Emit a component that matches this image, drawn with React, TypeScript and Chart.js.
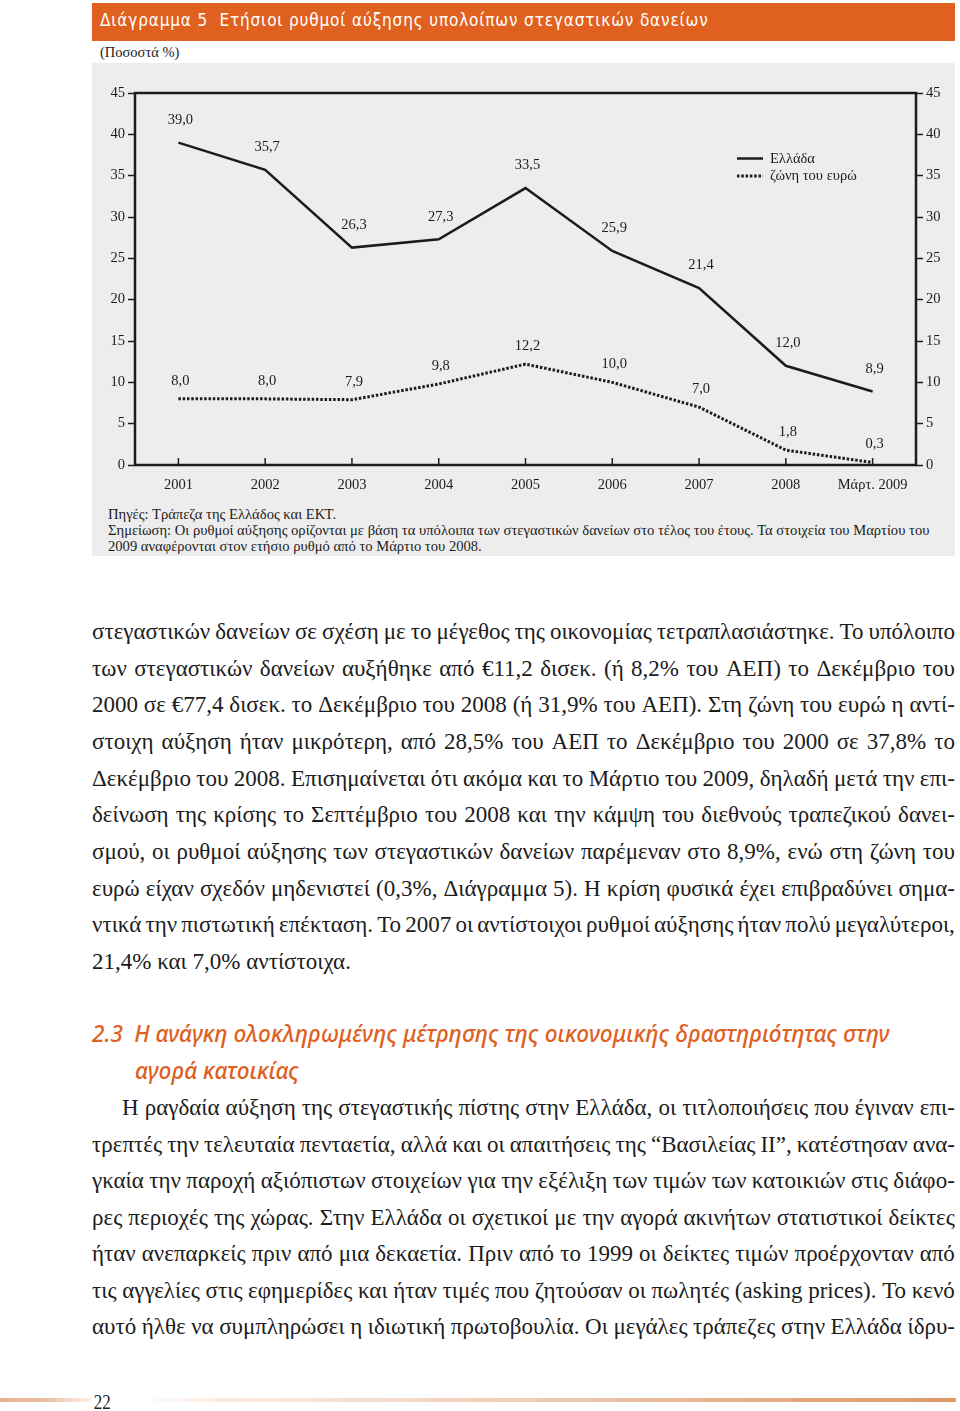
import React, { useEffect, useRef } from "react";
import { Chart, registerables } from "chart.js";

Chart.register(...registerables);

// ---------- data ----------
const categories = ["2001", "2002", "2003", "2004", "2005", "2006", "2007", "2008", "Μάρτ. 2009"];
const greece = [39.0, 35.7, 26.3, 27.3, 33.5, 25.9, 21.4, 12.0, 8.9];
const euroArea = [8.0, 8.0, 7.9, 9.8, 12.2, 10.0, 7.0, 1.8, 0.3];
const seriesLabels = ["Ελλάδα", "ζώνη του ευρώ"];
const yMin = 0;
const yMax = 45;
const yStep = 5;

// ---------- text ----------
const titleText = "Διάγραμμα 5  Ετήσιοι ρυθμοί αύξησης υπολοίπων στεγαστικών δανείων";
const unitText = "(Ποσοστά %)";
const noteLines = [
  "Πηγές: Τράπεζα της Ελλάδος και ΕΚΤ.",
  "Σημείωση: Οι ρυθμοί αύξησης ορίζονται με βάση τα υπόλοιπα των στεγαστικών δανείων στο τέλος του έτους. Τα στοιχεία του Μαρτίου του",
  "2009 αναφέρονται στον ετήσιο ρυθμό από το Μάρτιο του 2008.",
];
const para1 = [
  "στεγαστικών δανείων σε σχέση με το μέγεθος της οικονομίας τετραπλασιάστηκε. Το υπόλοιπο",
  "των στεγαστικών δανείων αυξήθηκε από €11,2 δισεκ. (ή 8,2% του ΑΕΠ) το Δεκέμβριο του",
  "2000 σε €77,4 δισεκ. το Δεκέμβριο του 2008 (ή 31,9% του ΑΕΠ). Στη ζώνη του ευρώ η αντί-",
  "στοιχη αύξηση ήταν μικρότερη, από 28,5% του ΑΕΠ το Δεκέμβριο του 2000 σε 37,8% το",
  "Δεκέμβριο του 2008. Επισημαίνεται ότι ακόμα και το Μάρτιο του 2009, δηλαδή μετά την επι-",
  "δείνωση της κρίσης το Σεπτέμβριο του 2008 και την κάμψη του διεθνούς τραπεζικού δανει-",
  "σμού, οι ρυθμοί αύξησης των στεγαστικών δανείων παρέμεναν στο 8,9%, ενώ στη ζώνη του",
  "ευρώ είχαν σχεδόν μηδενιστεί (0,3%, Διάγραμμα 5). Η κρίση φυσικά έχει επιβραδύνει σημα-",
  "ντικά την πιστωτική επέκταση. Το 2007 οι αντίστοιχοι ρυθμοί αύξησης ήταν πολύ μεγαλύτεροι,",
  "21,4% και 7,0% αντίστοιχα.",
];
const headingLines = [
  "2.3 Η ανάγκη ολοκληρωμένης μέτρησης της οικονομικής δραστηριότητας στην",
  "αγορά κατοικίας",
];
const para2 = [
  "Η ραγδαία αύξηση της στεγαστικής πίστης στην Ελλάδα, οι τιτλοποιήσεις που έγιναν επι-",
  "τρεπτές την τελευταία πενταετία, αλλά και οι απαιτήσεις της “Βασιλείας ΙΙ”, κατέστησαν ανα-",
  "γκαία την παροχή αξιόπιστων στοιχείων για την εξέλιξη των τιμών των κατοικιών στις διάφο-",
  "ρες περιοχές της χώρας. Στην Ελλάδα οι σχετικοί με την αγορά ακινήτων στατιστικοί δείκτες",
  "ήταν ανεπαρκείς πριν από μια δεκαετία. Πριν από το 1999 οι δείκτες τιμών προέρχονταν από",
  "τις αγγελίες στις εφημερίδες και ήταν τιμές που ζητούσαν οι πωλητές (asking prices). Το κενό",
  "αυτό ήλθε να συμπληρώσει η ιδιωτική πρωτοβουλία. Οι μεγάλες τράπεζες στην Ελλάδα ίδρυ-",
];
const pageNumber = "22";

// ---------- styles ----------
const SERIF = '"Liberation Serif", "DejaVu Serif", serif';
const INK = "#1c1c1c";
const ORANGE = "#e0611f";
const PANEL = "#ededed";

const fmt = (v: number) => v.toFixed(1).replace(".", ",");

function ChartCanvas() {
  const ref = useRef<HTMLCanvasElement>(null);
  useEffect(() => {
    if (!ref.current) return;
    const decor = {
      id: "decor",
      afterDatasetsDraw(chart: any) {
        const { ctx, chartArea: a, scales } = chart;
        ctx.save();
        // frame
        ctx.strokeStyle = INK;
        ctx.lineWidth = 2.5;
        ctx.setLineDash([]);
        ctx.strokeRect(a.left, a.top, a.right - a.left, a.bottom - a.top);
        // inner x ticks
        ctx.lineWidth = 1.5;
        categories.forEach((_, i) => {
          const x = scales.x.getPixelForValue(i);
          ctx.beginPath();
          ctx.moveTo(x, a.bottom);
          ctx.lineTo(x, a.bottom - 7);
          ctx.stroke();
        });
        // value labels
        ctx.font = `14.5px ${SERIF}`;
        ctx.fillStyle = INK;
        ctx.textAlign = "center";
        ctx.textBaseline = "middle";
        chart.data.datasets.forEach((ds: any, di: number) => {
          const meta = chart.getDatasetMeta(di);
          const off = di === 0 ? 22.5 : 18;
          meta.data.forEach((pt: any, i: number) => {
            ctx.fillText(fmt(ds.data[i]), pt.x + 2, pt.y - off);
          });
        });
        // legend
        const lx = a.left + 602;
        const ly = a.top + 65.5;
        chart.data.datasets.forEach((ds: any, di: number) => {
          const y = ly + di * 17.5;
          ctx.beginPath();
          ctx.strokeStyle = ds.borderColor;
          ctx.lineWidth = ds.borderWidth;
          ctx.setLineDash(ds.borderDash || []);
          ctx.moveTo(lx, y);
          ctx.lineTo(lx + 26, y);
          ctx.stroke();
          ctx.setLineDash([]);
          ctx.textAlign = "left";
          ctx.fillText(ds.label, lx + 33, y + 0.5);
        });
        ctx.restore();
      },
    };

    const yAxis = (position: "left" | "right", width: number) => ({
      position,
      min: yMin,
      max: yMax,
      ticks: {
        stepSize: yStep,
        color: INK,
        padding: 3,
        font: { family: SERIF, size: 14.5 },
      },
      grid: {
        drawOnChartArea: false,
        drawTicks: true,
        tickLength: 7,
        tickColor: INK,
        tickWidth: 1.5,
      },
      border: { display: false },
      afterFit: (s: any) => {
        s.width = width;
      },
    });

    const chart = new Chart(ref.current, {
      type: "line",
      data: {
        labels: categories,
        datasets: [
          {
            label: seriesLabels[0],
            data: greece,
            yAxisID: "y",
            borderColor: INK,
            borderWidth: 2.5,
            pointRadius: 0,
            tension: 0,
            fill: false,
          },
          {
            label: seriesLabels[1],
            data: euroArea,
            yAxisID: "y",
            borderColor: INK,
            borderWidth: 3,
            borderDash: [2.5, 1.8],
            pointRadius: 0,
            tension: 0,
            fill: false,
          },
        ],
      },
      options: {
        animation: false,
        responsive: false,
        devicePixelRatio: 1,
        layout: { padding: { top: 30, left: 0, right: 0, bottom: 0 } },
        plugins: {
          legend: { display: false },
          tooltip: { enabled: false },
          title: { display: false },
        },
        scales: {
          x: {
            offset: true,
            grid: { display: false },
            border: { display: false },
            ticks: {
              color: INK,
              padding: 3,
              maxRotation: 0,
              autoSkip: false,
              font: { family: SERIF, size: 14.5 },
            },
            afterFit: (s: any) => {
              s.height = 38;
            },
          },
          y: yAxis("left", 43),
          y2: yAxis("right", 39),
        },
      },
      plugins: [decor],
    } as any);
    return () => chart.destroy();
  }, []);
  return <canvas ref={ref} width={863} height={440} style={{ display: "block", width: 863, height: 440 }} />;
}

function JLine({ text, top, left, width, justify, size }: any) {
  const words = text.split(" ");
  const base: React.CSSProperties = {
    position: "absolute",
    top,
    left,
    width: width,
    height: 30,
    lineHeight: "30px",
    fontFamily: SERIF,
    fontSize: size,
    color: INK,
    whiteSpace: "nowrap",
  };
  if (!justify) return <div style={base}>{text}</div>;
  return (
    <div style={{ ...base, display: "flex", justifyContent: "space-between" }}>
      {words.map((w: string, i: number) => (
        <span key={i}>{w}</span>
      ))}
    </div>
  );
}

export default function App() {
  const BODY_SIZE = 23;
  return (
    <div style={{ position: "absolute", left: 0, top: 0, width: 960, height: 1411, background: "#fff", overflow: "hidden" }}>
      {/* header bar */}
      <div
        style={{
          position: "absolute",
          left: 92,
          top: 3,
          width: 863,
          height: 38,
          background: ORANGE,
        }}
      />
      <div
        style={{
          position: "absolute",
          left: 100,
          top: 8,
          height: 24,
          lineHeight: "24px",
          color: "#fff",
          fontFamily: '"Liberation Sans Narrow", "DejaVu Sans Condensed", "Roboto", sans-serif',
          fontSize: 17,
          letterSpacing: 0.85,
          whiteSpace: "pre",
        }}
      >
        {titleText}
      </div>
      <div
        style={{
          position: "absolute",
          left: 100,
          top: 43,
          lineHeight: "18px",
          fontFamily: SERIF,
          fontSize: 14.5,
          color: INK,
          whiteSpace: "nowrap",
        }}
      >
        {unitText}
      </div>
      {/* grey panel */}
      <div style={{ position: "absolute", left: 92, top: 63, width: 863, height: 493, background: PANEL }}>
        <ChartCanvas />
        {noteLines.map((t, i) => (
          <div
            key={i}
            style={{
              position: "absolute",
              left: 16,
              top: 443 + i * 16,
              lineHeight: "16px",
              fontFamily: SERIF,
              fontSize: 14.6,
              color: INK,
              whiteSpace: "nowrap",
            }}
          >
            {t}
          </div>
        ))}
      </div>

      {/* paragraph 1 */}
      {para1.map((t, i) => (
        <JLine
          key={"p1" + i}
          text={t}
          top={633 + i * 36.65 - 16}
          left={92}
          width={863}
          size={BODY_SIZE}
          justify={i < para1.length - 1}
        />
      ))}

      {/* heading */}
      {headingLines.map((t, i) => (
        <div
          key={"h" + i}
          style={{
            position: "absolute",
            left: i === 0 ? 92 : 135,
            top: 1035 + i * 37 - 16,
            lineHeight: "30px",
            height: 30,
            fontFamily: '"Noto Sans", "Open Sans", sans-serif',
            fontStyle: "italic",
            fontWeight: 500,
            fontSize: 22.6,
            color: ORANGE,
            whiteSpace: "pre",
          }}
        >
          {i === 0 ? t.replace("2.3 ", "2.3\u2002") : t}
        </div>
      ))}

      {/* paragraph 2 */}
      {para2.map((t, i) => (
        <JLine
          key={"p2" + i}
          text={t}
          top={1109 + i * 36.5 - 16}
          left={i === 0 ? 122 : 92}
          width={i === 0 ? 833 : 863}
          size={BODY_SIZE}
          justify={true}
        />
      ))}

      {/* footer rule */}
      <div
        style={{
          position: "absolute",
          left: 0,
          top: 1398,
          width: 956,
          height: 4,
          background:
            "linear-gradient(to right, #e6b290 0%, #ebbfa2 5%, #fbeee6 9%, #ffffff 11%, #ffffff 14%, #fbeee5 22%, #efcdb5 55%, #e3a67b 85%, #dd9a69 100%)",
        }}
      />
      <div
        style={{
          position: "absolute",
          left: 92,
          top: 1390,
          padding: "0 2px",
          background: "#fff",
          lineHeight: "24px",
          fontFamily: SERIF,
          fontSize: 20,
          color: INK,
          transform: "scaleX(0.85)",
          transformOrigin: "left center",
        }}
      >
        {pageNumber}
      </div>
    </div>
  );
}
